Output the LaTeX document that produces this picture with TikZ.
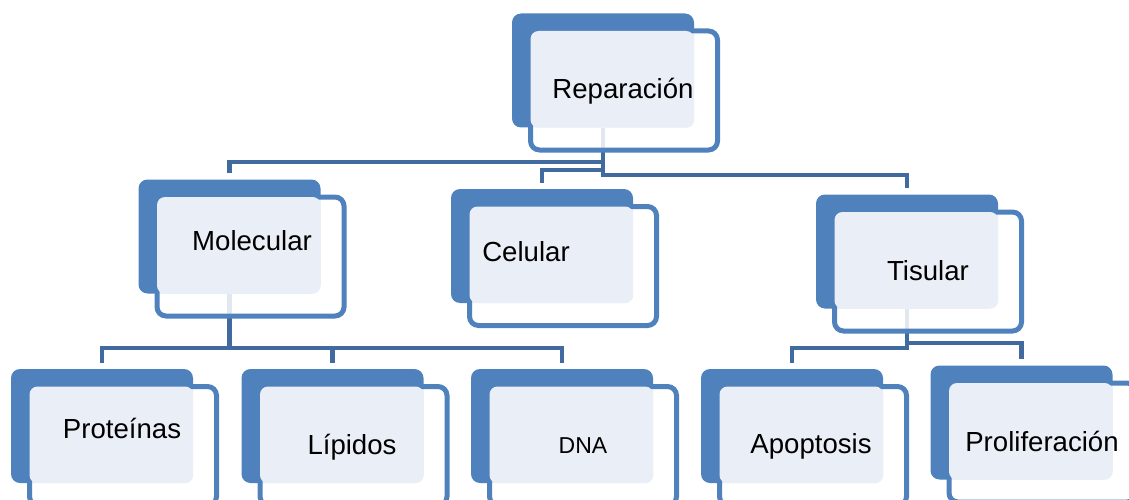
\documentclass[tikz,border=0pt]{standalone}
\usepackage{fontspec}
\setmainfont{Liberation Sans}
\pgfdeclarelayer{links}
\pgfsetlayers{links,main}
\definecolor{boxblue}{HTML}{4F81BD}
\definecolor{linkblue}{HTML}{416B9F}
\definecolor{softblue}{HTML}{EAEFF7}
\tikzset{
  backbox/.style={fill=boxblue, rounded corners=9pt, minimum width=182pt, minimum height=114pt, inner sep=0pt},
  frontbox/.style={draw=boxblue, line width=5pt, fill=white, fill opacity=0.85, draw opacity=1,
                   rounded corners=9pt, minimum width=187pt, minimum height=119pt, inner sep=0pt},
  softfill/.style={fill=softblue, rounded corners=8pt},
  tierfont/.style={font=\fontsize{27.6}{30}\selectfont, text=black, inner sep=0pt},
  smallfont/.style={font=\fontsize{23}{26}\selectfont, text=black, inner sep=0pt},
  link/.style={draw=linkblue, line width=4.6pt, shorten >=6pt}
}
% #1 label style, #2 name, #3,#4 centre of the back panel, #5,#6 label baseline, #7 label
\newcommand{\tierbox}[7][tierfont]{%
  \node[backbox] (#2B) at (#3,#4) {};
  \node[frontbox] (#2F) at ([xshift=21pt,yshift=-20pt]#2B.center) {};
  \fill[softfill] ([xshift=2.5pt,yshift=-2.5pt]#2F.north west) rectangle (#2B.south east);
  \node[#1,anchor=base] (#2) at (#5,#6) {#7};
}
\begin{document}
\begin{tikzpicture}[x=1pt,y=-1pt]
\useasboundingbox (0,0) rectangle (1129,500);
\clip (0,0) rectangle (1129,500);

\tierbox{rep}{603}{70.5}{623}{99}{Reparación}
\tierbox{mol}{229.5}{236.5}{252}{250}{Molecular}
\tierbox{cel}{542}{246}{526}{261}{Celular}
\tierbox{tis}{907}{251.5}{928}{280}{Tisular}
\tierbox{pro}{102}{426}{122}{438}{Proteínas}
\tierbox{lip}{332.5}{426}{352}{454}{Lípidos}
\tierbox[smallfont]{dna}{562}{426}{583}{453}{DNA}
\tierbox{apo}{792}{426}{811}{453}{Apoptosis}
\tierbox{prl}{1021.5}{422.5}{1042}{451}{Proliferación}

% elbow heights of the branch lines
\coordinate (hA) at (0,162);
\coordinate (hB) at (0,170);
\coordinate (hC) at (0,175);
\coordinate (hD) at (0,348);
\coordinate (hE) at (0,343);

\begin{pgfonlayer}{links}
  \draw[link] (repB.south) -- (repB.south |- hA) -| (molB.north);
  \draw[link] (repB.south) -- (repB.south |- hB) -| (celB.north);
  \draw[link] (repB.south) -- (repB.south |- hC) -| (tisB.north);
  \draw[link] (molB.south) -- (molB.south |- hD) -| (proB.north);
  \draw[link] (molB.south) -- (molB.south |- hD) -| (lipB.north);
  \draw[link] (molB.south) -- (molB.south |- hD) -| (dnaB.north);
  \draw[link] (tisB.south) -- (tisB.south |- hD) -| (apoB.north);
  \draw[link] (tisB.south) -- (tisB.south |- hE) -| (prlB.north);
\end{pgfonlayer}
\end{tikzpicture}
\end{document}
